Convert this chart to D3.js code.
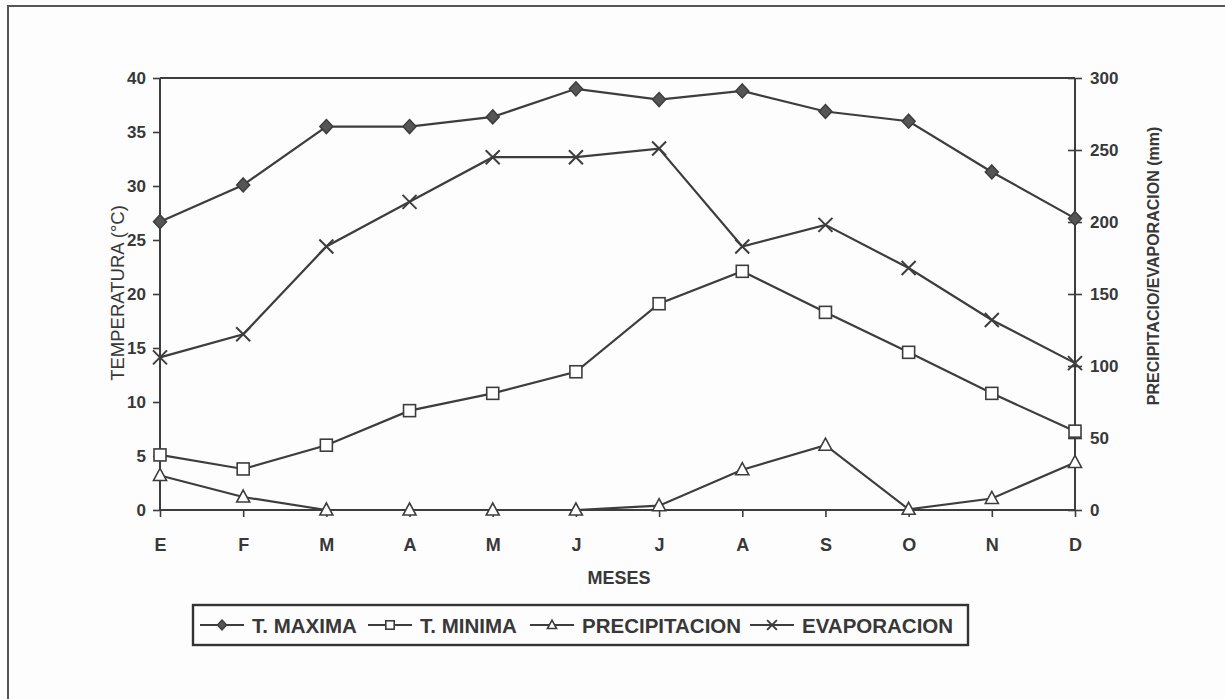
<!DOCTYPE html>
<html>
<head>
<meta charset="utf-8">
<script src="https://cdn.jsdelivr.net/npm/d3@7"></script>
<style>
  html, body { margin: 0; padding: 0; background: #fdfdfd; }
  svg { display: block; }
</style>
</head>
<body>
<svg id="chart" width="1225" height="699"></svg>
<script>
// ---- data ----
const months = ["E", "F", "M", "A", "M", "J", "J", "A", "S", "O", "N", "D"];
const tMaxima = [26.7, 30.1, 35.5, 35.5, 36.4, 39.0, 38.0, 38.8, 36.9, 36.0, 31.3, 27.0];
const tMinima = [5.1, 3.8, 6.0, 9.2, 10.8, 12.8, 19.1, 22.1, 18.3, 14.6, 10.8, 7.3];
const precipitacion = [24, 9, 0, 0, 0, 0, 3, 28, 45, 0.5, 8, 33];
const evaporacion = [106, 122, 183, 214, 245, 245, 251, 183, 198, 168, 132, 102];
const leftTicks = [0, 5, 10, 15, 20, 25, 30, 35, 40];
const rightTicks = [0, 50, 100, 150, 200, 250, 300];
const legendLabels = ["T. MAXIMA", "T. MINIMA", "PRECIPITACION", "EVAPORACION"];

const svg = d3.select("#chart");
const ink = "#3d3d3d";
const txt = "#383838";
const font = "'Liberation Sans', Arial, sans-serif";

// frame of the scanned page
svg.append("path").attr("d", "M8,699 L8,6 L1225,6")
  .attr("fill", "none").attr("stroke", "#555").attr("stroke-width", 2);

const x = d3.scalePoint().domain(d3.range(months.length)).range([160, 1075]);
const yL = d3.scaleLinear().domain([0, 40]).range([510, 78]);
const yR = d3.scaleLinear().domain([0, 300]).range([510, 78]);

// plot-area top border
svg.append("line").attr("x1", 160).attr("x2", 1075).attr("y1", yL(40)).attr("y2", yL(40))
  .attr("stroke", ink).attr("stroke-width", 2);

// left axis
const gL = svg.append("g").attr("transform", "translate(160,0)")
  .call(d3.axisLeft(yL).tickValues(leftTicks).tickSize(7).tickPadding(7));
// right axis
const gR = svg.append("g").attr("transform", "translate(1075,0)")
  .call(d3.axisRight(yR).tickValues(rightTicks).tickSize(7).tickPadding(8));
gR.selectAll(".tick line").attr("x1", -7);
// bottom axis
const gB = svg.append("g").attr("transform", "translate(0,510)")
  .call(d3.axisBottom(x).tickFormat(i => months[i]).tickSize(7).tickPadding(25));

[gL, gR, gB].forEach(g => {
  g.select(".domain").attr("stroke", ink).attr("stroke-width", 2);
  g.selectAll(".tick line").attr("stroke", ink).attr("stroke-width", 1.6);
  g.selectAll(".tick text").attr("font-family", font)
    .attr("font-size", 17).attr("font-weight", "bold").attr("fill", txt);
});
gB.selectAll(".tick text").attr("font-size", 18).attr("dy", "0.5em");
gL.select(".domain").attr("d", "M0,510V78");
gR.select(".domain").attr("d", "M0,510V78");
gB.select(".domain").attr("d", "M160,0H1075");

// axis titles
svg.append("text").attr("transform", "translate(124,293) rotate(-90)")
  .attr("text-anchor", "middle").attr("font-family", font).attr("font-size", 18.5).attr("fill", txt)
  .text("TEMPERATURA (°C)");
svg.append("text").attr("transform", "translate(1159,266) rotate(-90)")
  .attr("text-anchor", "middle").attr("font-family", font).attr("font-size", 16)
  .attr("font-weight", "bold").attr("fill", txt)
  .text("PRECIPITACIO/EVAPORACION (mm)");
svg.append("text").attr("x", 619).attr("y", 584)
  .attr("text-anchor", "middle").attr("font-family", font).attr("font-size", 18)
  .attr("font-weight", "bold").attr("fill", txt)
  .text("MESES");

// markers
function marker(g, type, cx, cy, k = 1) {
  if (type === "diamond") {
    g.append("path").attr("d", `M${cx},${cy - 7 * k}L${cx + 6.5 * k},${cy}L${cx},${cy + 7 * k}L${cx - 6.5 * k},${cy}Z`)
      .attr("fill", "#555").attr("stroke", ink).attr("stroke-width", 1.5);
  } else if (type === "square") {
    g.append("rect").attr("x", cx - 6 * k).attr("y", cy - 6 * k).attr("width", 12 * k).attr("height", 12 * k)
      .attr("fill", "#fff").attr("stroke", ink).attr("stroke-width", 1.6);
  } else if (type === "triangle") {
    g.append("path").attr("d", `M${cx},${cy - 7 * k}L${cx + 6.5 * k},${cy + 5 * k}L${cx - 6.5 * k},${cy + 5 * k}Z`)
      .attr("fill", "#fff").attr("stroke", ink).attr("stroke-width", 1.6);
  } else if (type === "x") {
    g.append("path").attr("d", `M${cx - 7 * k},${cy - 7 * k}L${cx + 7 * k},${cy + 7 * k}M${cx + 7 * k},${cy - 7 * k}L${cx - 7 * k},${cy + 7 * k}`)
      .attr("fill", "none").attr("stroke", ink).attr("stroke-width", 2);
  }
}

const series = [
  { values: tMaxima, scale: yL, type: "diamond" },
  { values: tMinima, scale: yL, type: "square" },
  { values: precipitacion, scale: yR, type: "triangle" },
  { values: evaporacion, scale: yR, type: "x" }
];

const line = d3.line();
series.forEach(s => {
  const g = svg.append("g");
  const pts = s.values.map((v, i) => [x(i), s.scale(v)]);
  g.append("path").attr("d", line(pts)).attr("fill", "none")
    .attr("stroke", ink).attr("stroke-width", 2.2);
  pts.forEach(p => marker(g, s.type, p[0], p[1]));
});

// legend
const lg = svg.append("g");
lg.append("rect").attr("x", 193).attr("y", 605).attr("width", 775).attr("height", 40)
  .attr("fill", "#fdfdfd").attr("stroke", "#333").attr("stroke-width", 2.4);
const legendX = [200, 368, 530, 750];
legendLabels.forEach((lab, i) => {
  const x0 = legendX[i], cy = 625;
  lg.append("line").attr("x1", x0).attr("x2", x0 + 44).attr("y1", cy).attr("y2", cy)
    .attr("stroke", ink).attr("stroke-width", 2.2);
  marker(lg, series[i].type, x0 + 22, cy, 0.7);
  lg.append("text").attr("x", x0 + 52).attr("y", cy + 7.5).attr("font-size", 20.5)
    .attr("font-weight", "bold").attr("fill", txt).attr("font-family", font)
    .text(lab);
});
</script>
</body>
</html>
